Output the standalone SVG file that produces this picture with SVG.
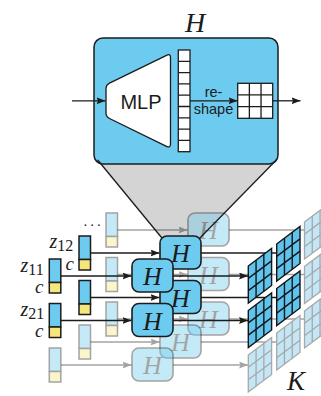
<svg xmlns="http://www.w3.org/2000/svg" xmlns:xlink="http://www.w3.org/1999/xlink" width="321" height="396" viewBox="0 0 321 396">
<style>
.box{fill:#6dcbf0;stroke:#1c1c1c;stroke-width:1.5}
.wb{fill:#fff;stroke:#1c1c1c;stroke-width:1.3}
.ln{fill:none;stroke:#1c1c1c;stroke-width:1.3}
.hn rect{fill:#6dcbf0;stroke:#1c1c1c;stroke-width:1.6}
.hn text,.mt{font-family:"Liberation Serif","DejaVu Serif",serif;font-style:italic;fill:#1c1c1c}
.hn text{font-size:26px;text-anchor:middle}
.faded{opacity:0.4}
.vb{fill:#6dcbf0;stroke:#1c1c1c;stroke-width:1.5}
.vy{fill:#f5e77c;stroke:#1c1c1c;stroke-width:1.5}
.gs{fill:#5ec4ee;stroke:#151515;stroke-width:1.4}
.gf{fill:#c4e7f7;stroke:#a8a8a8;stroke-width:1.3}
.sans{font-family:"Liberation Sans","Arial",sans-serif;fill:#1c1c1c;text-anchor:middle}
.dig{font-family:"Liberation Serif","DejaVu Serif",serif;font-style:normal}
</style>
<defs>
<marker id="ah" markerWidth="9" markerHeight="7" refX="9" refY="3.5" orient="auto" markerUnits="userSpaceOnUse">
<path d="M0,0 L9,3.5 L0,7 L1.5,3.5 Z" fill="#1c1c1c"/>
</marker>
<g id="grid">
<path d="M0,0 L23.3,-17.5 L23.3,19.5 L0,37 Z"/>
<path fill="none" d="M7.77,-5.83 V31.17 M15.53,-11.67 V25.33 M0,12.33 L23.3,-5.17 M0,24.67 L23.3,7.17"/>
</g>
</defs>

<!-- trapezoid fill -->
<polygon points="97.7,160 276.3,160 197,241 164.4,241" fill="#d4d4d4"/>

<!-- Main H box -->
<g id="hypernet">
<text class="mt" x="195" y="32" font-size="28" text-anchor="middle">H</text>
<rect class="box" x="94" y="38" width="184" height="126" rx="9"/>
<path class="wb" d="M106,89 Q106,85 109.5,83.2 L166.5,55.3 Q170.5,53.3 170.5,57.5 L170.5,144 Q170.5,148.3 166.5,146.3 L109.5,118.5 Q106,116.7 106,113 Z"/>
<text class="sans" x="141" y="109" font-size="20">MLP</text>
<rect class="wb" x="178.3" y="50" width="11.7" height="101.7"/>
<path class="ln" d="M178.3,61.3H190M178.3,72.6H190M178.3,83.9H190M178.3,95.2H190M178.3,106.5H190M178.3,117.8H190M178.3,129.1H190M178.3,140.4H190"/>
<text class="sans" x="213.5" y="97" font-size="14.5">re-</text>
<text class="sans" x="213.5" y="114" font-size="14.5">shape</text>
<rect class="wb" x="237.7" y="83.3" width="35" height="35"/>
<path class="ln" d="M249.37,83.3V118.3M261.03,83.3V118.3M237.7,94.97H272.7M237.7,106.63H272.7"/>
</g>
<g id="hypernet-arrows">
<line class="ln" x1="72" y1="100.8" x2="105.5" y2="100.8" marker-end="url(#ah)"/>
<line class="ln" x1="190" y1="100.8" x2="237.5" y2="100.8" marker-end="url(#ah)"/>
<line class="ln" x1="272.7" y1="100.8" x2="300.5" y2="100.8" marker-end="url(#ah)"/>
</g>

<!-- Column C (back, faded) -->
<g id="vec-c1" class="faded"><rect class="vb" x="106" y="213" width="11.5" height="23.5"/><rect class="vy" x="106" y="236.5" width="11.5" height="10.5"/></g>
<g id="vec-c2" class="faded"><rect class="vb" x="106" y="257.5" width="11.5" height="23.5"/><rect class="vy" x="106" y="281" width="11.5" height="10.5"/></g>
<g id="vec-c3" class="faded"><rect class="vb" x="106" y="302" width="11.5" height="23.5"/><rect class="vy" x="106" y="325.5" width="11.5" height="10.5"/></g>
<g id="connectors-c" class="faded">
<line class="ln" x1="117.5" y1="230" x2="187.5" y2="230" marker-end="url(#ah)"/>
<line class="ln" x1="117.5" y1="274.5" x2="187.5" y2="274.5" marker-end="url(#ah)"/>
<line class="ln" x1="117.5" y1="319" x2="187.5" y2="319" marker-end="url(#ah)"/>
<line class="ln" x1="229" y1="230" x2="304.5" y2="230"/>
<line class="ln" x1="229" y1="274.5" x2="304.5" y2="274.5"/>
<line class="ln" x1="229" y1="319" x2="304.5" y2="319"/>
</g>
<g id="h-c1" class="hn faded"><rect x="188" y="213" width="41" height="33" rx="7"/><text x="208.5" y="239">H</text></g>
<g id="h-c2" class="hn faded"><rect x="188" y="257.5" width="41" height="33" rx="7"/><text x="208.5" y="283.5">H</text></g>
<g id="h-c3" class="hn faded"><rect x="188" y="302" width="41" height="33" rx="7"/><text x="208.5" y="328">H</text></g>

<!-- trapezoid edges -->
<g id="projection">
<line class="ln" x1="97.7" y1="160" x2="164.4" y2="241"/>
<line class="ln" x1="276.3" y1="160" x2="197" y2="241"/>
</g>

<!-- dots -->
<text class="mt" x="84" y="226" font-size="14" font-style="normal" letter-spacing="3.2">...</text>

<!-- Column B -->
<g id="vec-b1"><rect class="vb" x="79" y="236" width="11.5" height="23.5"/><rect class="vy" x="79" y="259.5" width="11.5" height="10.5"/></g>
<g id="vec-b2"><rect class="vb" x="79" y="280.5" width="11.5" height="23.5"/><rect class="vy" x="79" y="304" width="11.5" height="10.5"/></g>
<g id="vec-b3" class="faded"><rect class="vb" x="79" y="325" width="11.5" height="23.5"/><rect class="vy" x="79" y="348.5" width="11.5" height="10.5"/></g>
<g id="connectors-b">
<line class="ln" x1="90.5" y1="253" x2="159.5" y2="253" marker-end="url(#ah)"/>
<line class="ln" x1="90.5" y1="297.5" x2="159.5" y2="297.5" marker-end="url(#ah)"/>
<line class="ln" x1="201" y1="253" x2="276.7" y2="253"/>
<line class="ln" x1="201" y1="297.5" x2="276.7" y2="297.5"/>
<g class="faded">
<line class="ln" x1="90.5" y1="342" x2="159.5" y2="342" marker-end="url(#ah)"/>
<line class="ln" x1="201" y1="342" x2="276.7" y2="342"/>
</g>
</g>
<g id="h-b1" class="hn"><rect x="160" y="236" width="41" height="33" rx="7"/><text x="180.5" y="262">H</text></g>
<g id="h-b2" class="hn"><rect x="160" y="280.5" width="41" height="33" rx="7"/><text x="180.5" y="306.5">H</text></g>
<g id="h-b3" class="hn faded"><rect x="160" y="325" width="41" height="33" rx="7"/><text x="180.5" y="351">H</text></g>

<!-- Column A -->
<g id="vec-a1"><rect class="vb" x="49.3" y="259" width="11.5" height="23.5"/><rect class="vy" x="49.3" y="282.5" width="11.5" height="10.5"/></g>
<g id="vec-a2"><rect class="vb" x="49.3" y="303.5" width="11.5" height="23.5"/><rect class="vy" x="49.3" y="327" width="11.5" height="10.5"/></g>
<g id="vec-a3" class="faded"><rect class="vb" x="49.3" y="348" width="11.5" height="23.5"/><rect class="vy" x="49.3" y="371.5" width="11.5" height="10.5"/></g>
<g id="connectors-a-in">
<line class="ln" x1="61" y1="276" x2="131.5" y2="276" marker-end="url(#ah)"/>
<line class="ln" x1="61" y1="320.5" x2="131.5" y2="320.5" marker-end="url(#ah)"/>
<line class="ln faded" x1="61" y1="365" x2="131.5" y2="365" marker-end="url(#ah)"/>
</g>
<g id="h-a1" class="hn"><rect x="132" y="259" width="41" height="33" rx="7"/><text x="152.5" y="285">H</text></g>
<g id="h-a2" class="hn"><rect x="132" y="303.5" width="41" height="33" rx="7"/><text x="152.5" y="329.5">H</text></g>
<g id="h-a3" class="hn faded"><rect x="132" y="348" width="41" height="33" rx="7"/><text x="152.5" y="374">H</text></g>
<g id="connectors-a-out">
<line class="ln" x1="173" y1="276" x2="248" y2="276" marker-end="url(#ah)"/>
<line class="ln" x1="173" y1="320.5" x2="248" y2="320.5" marker-end="url(#ah)"/>
<line class="ln faded" x1="173" y1="365" x2="248" y2="365" marker-end="url(#ah)"/>
</g>

<!-- Output kernels K -->
<g id="kernels">
<use xlink:href="#grid" class="gf" x="304.5" y="222"/>
<use xlink:href="#grid" class="gf" x="304.5" y="266.5"/>
<use xlink:href="#grid" class="gf" x="304.5" y="311"/>
<use xlink:href="#grid" class="gs" x="276.7" y="244"/>
<use xlink:href="#grid" class="gs" x="276.7" y="288.5"/>
<use xlink:href="#grid" class="gf" x="276.7" y="333"/>
<use xlink:href="#grid" class="gs" x="248.3" y="266"/>
<use xlink:href="#grid" class="gs" x="248.3" y="310.5"/>
<use xlink:href="#grid" class="gf" x="248.3" y="355"/>
</g>
<text class="mt" x="287" y="390" font-size="27">K</text>

<!-- labels -->
<g id="labels">
<text class="mt" x="49.5" y="248" font-size="20">z<tspan class="dig" font-size="16" dy="3">12</tspan></text>
<text class="mt" x="65.5" y="269.5" font-size="19">c</text>
<text class="mt" x="20.5" y="272" font-size="20">z<tspan class="dig" font-size="16" dy="3">11</tspan></text>
<text class="mt" x="35" y="293" font-size="19">c</text>
<text class="mt" x="20.5" y="315.5" font-size="20">z<tspan class="dig" font-size="16" dy="3">21</tspan></text>
<text class="mt" x="35" y="337" font-size="19">c</text>
</g>
</svg>
